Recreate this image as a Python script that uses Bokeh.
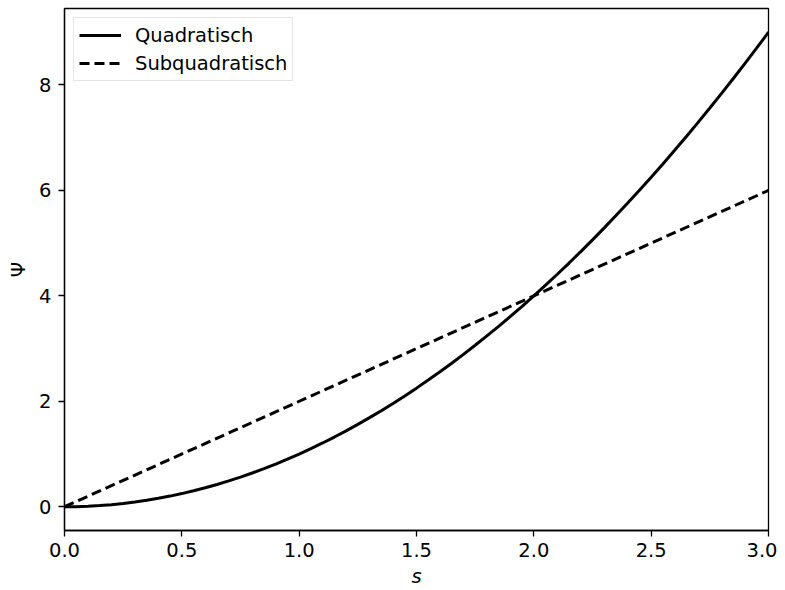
from bokeh.plotting import figure
from bokeh.models import Range1d, FixedTicker, PrintfTickFormatter, Legend, LegendItem
from bokeh.embed import file_html
from bokeh.resources import INLINE

# Data
s = [0.0, 0.05, 0.1, 0.15, 0.2, 0.25, 0.3, 0.35, 0.4, 0.45, 0.5,
     0.55, 0.6, 0.65, 0.7, 0.75, 0.8, 0.85, 0.9, 0.95, 1.0,
     1.05, 1.1, 1.15, 1.2, 1.25, 1.3, 1.35, 1.4, 1.45, 1.5,
     1.55, 1.6, 1.65, 1.7, 1.75, 1.8, 1.85, 1.9, 1.95, 2.0,
     2.05, 2.1, 2.15, 2.2, 2.25, 2.3, 2.35, 2.4, 2.45, 2.5,
     2.55, 2.6, 2.65, 2.7, 2.75, 2.8, 2.85, 2.9, 2.95, 3.0]
quadratisch = [0.0, 0.0025, 0.01, 0.0225, 0.04, 0.0625, 0.09, 0.1225, 0.16, 0.2025, 0.25,
               0.3025, 0.36, 0.4225, 0.49, 0.5625, 0.64, 0.7225, 0.81, 0.9025, 1.0,
               1.1025, 1.21, 1.3225, 1.44, 1.5625, 1.69, 1.8225, 1.96, 2.1025, 2.25,
               2.4025, 2.56, 2.7225, 2.89, 3.0625, 3.24, 3.4225, 3.61, 3.8025, 4.0,
               4.2025, 4.41, 4.6225, 4.84, 5.0625, 5.29, 5.5225, 5.76, 6.0025, 6.25,
               6.5025, 6.76, 7.0225, 7.29, 7.5625, 7.84, 8.1225, 8.41, 8.7025, 9.0]
sub_s = [0.0, 3.0]
subquadratisch = [0.0, 6.0]

x_ticks = [0.0, 0.5, 1.0, 1.5, 2.0, 2.5, 3.0]
y_ticks = [0, 2, 4, 6, 8]

FONT = "DejaVu Sans"
FS = "19.5px"

p = figure(width=777, height=590, output_backend="svg", toolbar_location=None,
           x_range=Range1d(0, 3), y_range=Range1d(-0.45, 9.45),
           min_border_left=64, min_border_right=9, min_border_top=8, min_border_bottom=58)
p.background_fill_color = "white"
p.border_fill_color = "white"
p.outline_line_color = "black"
p.outline_line_width = 1.3
p.xgrid.visible = False
p.ygrid.visible = False

for ax in (p.xaxis[0], p.yaxis[0]):
    ax.axis_line_color = "black"
    ax.axis_line_width = 1.3
    ax.major_tick_line_color = "black"
    ax.major_tick_line_width = 1.3
    ax.major_tick_out = 6
    ax.major_tick_in = 0
    ax.minor_tick_line_color = None
    ax.major_label_text_font = FONT
    ax.major_label_text_font_size = FS
    ax.major_label_text_color = "black"
    ax.axis_label_text_font = FONT
    ax.axis_label_text_font_size = FS
    ax.axis_label_text_color = "black"

p.xaxis.ticker = FixedTicker(ticks=x_ticks)
p.xaxis.formatter = PrintfTickFormatter(format="%.1f")
p.yaxis.ticker = FixedTicker(ticks=y_ticks)
p.yaxis.formatter = PrintfTickFormatter(format="%d")
p.xaxis.axis_label = "s"
p.xaxis.axis_label_text_font_style = "italic"
p.yaxis.axis_label = "Ψ"
p.yaxis.axis_label_text_font_style = "normal"
p.xaxis.major_label_standoff = 6
p.yaxis.major_label_standoff = 7
p.xaxis.axis_label_standoff = 5
p.yaxis.axis_label_standoff = 6

r1 = p.line(s, quadratisch, line_color="black", line_width=3)
r2 = p.line(sub_s, subquadratisch, line_color="black", line_width=3, line_dash="10 5")

legend = Legend(items=[LegendItem(label="Quadratisch", renderers=[r1]),
                       LegendItem(label="Subquadratisch", renderers=[r2])],
                location="top_left")
legend.label_text_font = FONT
legend.label_text_font_size = FS
legend.label_text_color = "black"
legend.border_line_color = "#cccccc"
legend.border_line_width = 1.3
legend.background_fill_alpha = 0.8
legend.glyph_width = 42
legend.glyph_height = 24
legend.label_standoff = 14
legend.label_height = 24
legend.padding = 5
legend.spacing = 4
legend.margin = 9
p.add_layout(legend)

open("out.html", "w").write(file_html(p, INLINE))
